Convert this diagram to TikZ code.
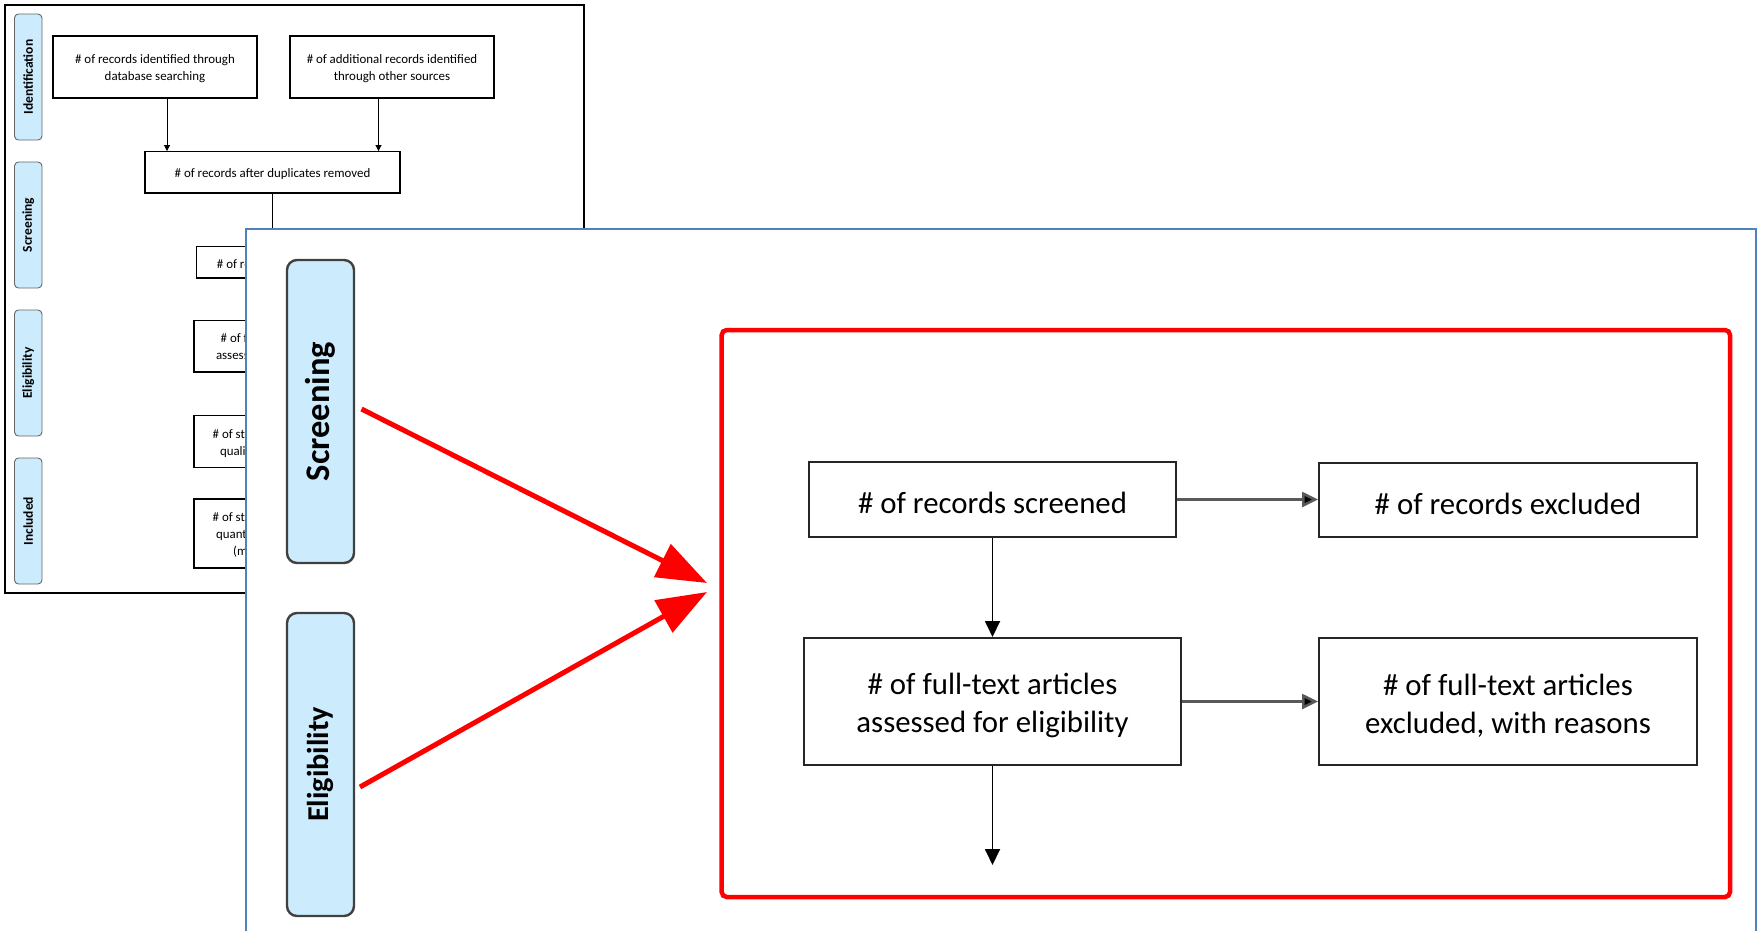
\documentclass[tikz,border=0pt]{standalone}
\usepackage{fontspec}
\setmainfont{Carlito}
\usetikzlibrary{arrows.meta}
\definecolor{labfill}{RGB}{204,235,252}
\definecolor{panelblue}{RGB}{79,129,189}
\definecolor{pred}{RGB}{255,0,0}
\newcommand\fstrut{\rule{0pt}{29pt}}
\newcommand\bstrut{\rule{0pt}{12pt}}
\begin{document}
\begin{tikzpicture}[x=1pt,y=-1pt,
  bbox/.style={draw=black, line width=1.1pt, fill=white, inner sep=0pt, align=center,
    font=\fontsize{12.9}{16.8}\selectfont},
  blab/.style={draw=black!60, line width=0.9pt, fill=labfill, rounded corners=4pt,
    inner sep=0pt, rotate=90, font=\bfseries\fontsize{13.5}{16}\selectfont},
  barrow/.style={line width=0.9pt, -{Triangle[length=6pt,width=6pt]}},
  flab/.style={draw=black!75, line width=2.4pt, fill=labfill, rounded corners=10pt,
    inner sep=0pt, rotate=90},
  fbox/.style={draw=black!85, line width=2pt, fill=white, inner sep=0pt, align=center,
    font=\fontsize{30.8}{38}\selectfont},
  farrow/.style={line width=1.8pt, -{Triangle[length=16pt,width=15pt]}},
  farrowh/.style={draw=black!65, line width=2.6pt, -{Triangle[length=16pt,width=15pt,fill=black]}},
  redarrow/.style={draw=pred, line width=5pt, -{Triangle[length=50pt,width=36pt]}}
]
\useasboundingbox (0,0) rectangle (1761,930);
\clip (0,0) rectangle (1761,930);

% ---------- back picture ----------
\draw[line width=2pt] (5,5) rectangle (584,593);
\node[blab, minimum width=126pt, minimum height=27.5pt] (lId) at (28.25,77) {Identification};
\node[blab, minimum width=126pt, minimum height=27.5pt] (lSc) at (28.25,225) {Screening};
\node[blab, minimum width=126pt, minimum height=27.5pt] (lEl) at (28.25,373) {Eligibility};
\node[blab, minimum width=126pt, minimum height=27.5pt] (lIn) at (28.25,521) {Included};

\node[bbox, minimum width=204pt, minimum height=62pt] (b1) at (155,67)
  {\bstrut\# of records identified through\\database searching};
\node[bbox, minimum width=204pt, minimum height=62pt] (b2) at (392,67)
  {\bstrut\# of additional records identified\\through other sources};
\node[bbox, minimum width=255pt, minimum height=41.4pt] (b3) at (272.5,172.3)
  {\bstrut\# of records after duplicates removed};
\coordinate (x1) at (167,0);
\coordinate (x2) at (378.5,0);
\draw[barrow] (b1.south -| x1) -- (b3.north -| x1);
\draw[barrow] (b2.south -| x2) -- (b3.north -| x2);

\node[bbox, minimum width=153.5pt, minimum height=31.3pt] (bA) at (273.25,262.35)
  {\bstrut\# of records screened};
\node[bbox, minimum width=158pt, minimum height=51.3pt] (bC) at (273,346.35)
  {\bstrut\# of full-text articles\\assessed for eligibility};
\node[bbox, minimum width=158pt, minimum height=52pt] (bQ) at (273,441.7)
  {\bstrut\# of studies included in\\qualitative synthesis};
\node[bbox, minimum width=158pt, minimum height=69pt] (bN) at (273,533.5)
  {\bstrut\# of studies included in\\quantitative synthesis\\(meta-analysis)};
\draw[barrow] (b3.south) -- (b3.south |- bA.north);

% ---------- front panel ----------
\fill[white] (245.7,229) rectangle (1756,945);
\draw[panelblue, line width=1.6pt] (245.7,945) -- (245.7,229) -- (1756,229) -- (1756,945);

\node[flab, minimum width=303pt, minimum height=67pt,
  font=\bfseries\fontsize{34.5}{40}\selectfont] (sLab) at (320.5,411.5) {Screening};
\node[flab, minimum width=303pt, minimum height=67pt,
  font=\bfseries\fontsize{30.3}{36}\selectfont] (eLab) at (320.5,764.5) {Eligibility};

\draw[pred, line width=4.5pt, rounded corners=5pt] (721.7,330) rectangle (1730,897);

\node[fbox, minimum width=367pt, minimum height=75pt] (A) at (992.5,499.5)
  {\fstrut\# of records screened};
\node[fbox, minimum width=378pt, minimum height=74pt] (B) at (1508,500)
  {\fstrut\# of records excluded};
\node[fbox, minimum width=377pt, minimum height=127pt] (C) at (992.5,701.5)
  {\fstrut\# of full-text articles\\assessed for eligibility};
\node[fbox, minimum width=378pt, minimum height=127pt] (D) at (1508,701.5)
  {\fstrut\# of full-text articles\\excluded, with reasons};
\coordinate (endC) at (992.5,865);

\draw[farrowh] (A.east) -- (A.east -| B.west);
\draw[farrowh] (C.east) -- (D.west);
\draw[farrow] (A.south) -- (C.north);
\draw[farrow] (C.south) -- (endC);

\coordinate (s1) at (361.5,409);
\coordinate (t1) at (707,583);
\coordinate (s2) at (360,787);
\coordinate (t2) at (707,592);
\draw[redarrow] (s1) -- (t1);
\draw[redarrow] (s2) -- (t2);
\end{tikzpicture}
\end{document}
